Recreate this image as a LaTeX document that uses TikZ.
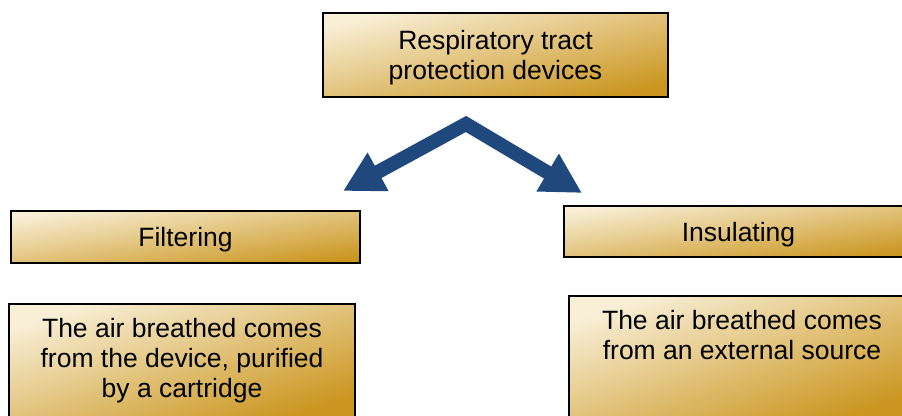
\documentclass[tikz,border=0pt]{standalone}
\usepackage{fontspec}
\setmainfont{Liberation Sans}
\usepackage{xcolor}
\usetikzlibrary{arrows.meta}
\definecolor{boxlight}{RGB}{248,239,214}
\definecolor{boxdark}{RGB}{203,150,32}
\definecolor{arrowblue}{RGB}{31,73,125}

\begin{document}
\begin{tikzpicture}[
  x=1pt, y=-1pt,
  goldbox/.style={draw=black, line width=1.5pt, top color=boxlight,
    bottom color=boxdark, shading angle=#1, inner sep=0pt},
  boxtext/.style={align=center, inner sep=0pt, text depth=0pt,
    font=\fontsize{26.5pt}{30pt}\selectfont},
  bigarrow/.style={draw=arrowblue, line width=14pt, line join=miter,
    {Triangle[length=40pt,width=41pt]}-{Triangle[length=40pt,width=41pt]}},
]

\useasboundingbox (0,0) rectangle (902,415);
\clip (0,0) rectangle (902,415);

\node [goldbox=13.7, boxtext, minimum width=345, minimum height=84] (devices)
  at (495.5,55) {Respiratory tract\\protection devices};

\node [goldbox=8.5, boxtext, minimum width=349, minimum height=52] (filter)
  at (185.5,237) {Filtering};
\node [goldbox=8.3, boxtext, minimum width=349, minimum height=51] (insul)
  at (738.5,231.5) {Insulating};

\node [goldbox=18.5, minimum width=346, minimum height=116] (filterdesc) at (182,362) {};
\node [boxtext, anchor=north] (filtertext) at ([yshift=-15]filterdesc.north)
  {The air breathed comes\\from the device, purified\\by a cartridge};

\node [goldbox=19.7, minimum width=346, minimum height=124] (insuldesc) at (742,358) {};
\node [boxtext, anchor=north] (insultext) at ([yshift=-15]insuldesc.north)
  {The air breathed comes\\from an external source};

\coordinate (apex) at (466,124);
\coordinate (ltip) at (343,191);
\coordinate (rtip) at (582,193);
\draw [bigarrow] (ltip) -- (apex) -- (rtip);

\end{tikzpicture}
\end{document}
